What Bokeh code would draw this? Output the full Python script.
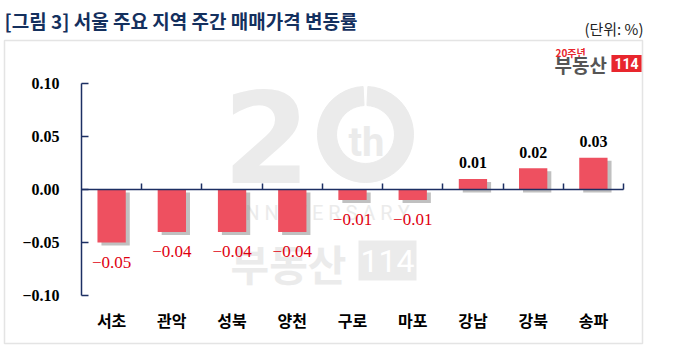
import math
from bokeh.plotting import figure
from bokeh.models import (ColumnDataSource, LinearAxis, FixedTicker, CustomJSTickFormatter,
                          Label, BoxAnnotation, Range1d)
from bokeh.core.properties import value
from bokeh.embed import file_html
from bokeh.resources import INLINE

# ---------------- data ----------------
categories = ["서초", "관악", "성북", "양천", "구로", "마포", "강남", "강북", "송파"]
changes = [-0.05, -0.04, -0.04, -0.04, -0.01, -0.01, 0.01, 0.02, 0.03]
y_ticks = [-0.10, -0.05, 0.00, 0.05, 0.10]
title_text = "[그림 3] 서울 주요 지역 주간 매매가격 변동률"
unit_text = "(단위: %)"

# ---------------- style / layout ----------------
NAVY = "#1c2f63"
BAR = "#ee5060"
NEG_TXT = "#e00010"
WM = "#ebebeb"
KR = "Noto Sans CJK KR"
SERIF = "Liberation Serif"

W, H = 660, 350
X0_PX, X1_PX = 81, 623      # canvas x of the plot's left and right ends
YT_PX, YB_PX = 83, 295      # canvas y of the top and bottom ticks

n = len(categories)
ymin, ymax = y_ticks[0], y_ticks[-1]
kx = (X1_PX - X0_PX) / n
ky = (YB_PX - YT_PX) / (ymax - ymin)
xs = [i + 0.5 for i in range(n)]

p = figure(width=W, height=H, output_backend="svg", toolbar_location=None,
           x_range=Range1d(-X0_PX / kx, (W - X0_PX) / kx),
           y_range=Range1d(ymin - (H - YB_PX) / ky, ymax + YT_PX / ky),
           x_axis_location=None, y_axis_location=None, min_border=0)
p.outline_line_color = None
p.background_fill_color = "white"
p.border_fill_color = "white"
for g in p.grid:
    g.visible = False

# canvas pixel -> screen units (x from left, y from bottom)
def sx(px):
    return px

def sy(py):
    return H - py

# ---------------- axes ----------------
yaxis = LinearAxis(fixed_location=0, bounds=(ymin, ymax),
                   ticker=FixedTicker(ticks=y_ticks, minor_ticks=[]),
                   formatter=CustomJSTickFormatter(code="return (tick < -1e-9 ? '\u2212' : '') + Math.abs(tick).toFixed(2);"),
                   axis_line_color=NAVY, axis_line_width=1.5,
                   major_tick_line_color=NAVY, major_tick_line_width=1.5,
                   major_tick_in=7, major_tick_out=0, minor_tick_in=0, minor_tick_out=0,
                   major_label_standoff=22,
                   major_label_text_font=SERIF, major_label_text_font_style="bold",
                   major_label_text_font_size="16px", major_label_text_color="black")
p.add_layout(yaxis, "left")

zero_axis = LinearAxis(fixed_location=0, bounds=(0, n),
                       ticker=FixedTicker(ticks=list(range(1, n + 1)), minor_ticks=[]),
                       formatter=CustomJSTickFormatter(code="return '';"),
                       axis_line_color=NAVY, axis_line_width=1.5,
                       major_tick_line_color=NAVY, major_tick_line_width=1.5,
                       major_tick_in=6, major_tick_out=0, minor_tick_in=0, minor_tick_out=0,
                       major_label_standoff=0)
p.add_layout(zero_axis, "below")

cat_axis = LinearAxis(fixed_location=ymin,
                      ticker=FixedTicker(ticks=xs, minor_ticks=[]),
                      formatter=CustomJSTickFormatter(args=dict(cats=categories),
                                                      code="return cats[Math.floor(tick)];"),
                      axis_line_color=None, major_tick_line_color=None, minor_tick_line_color=None,
                      major_tick_in=0, major_tick_out=0,
                      major_label_standoff=12,
                      major_label_text_font=KR, major_label_text_font_style="bold",
                      major_label_text_font_size="16px", major_label_text_color="black")
p.add_layout(cat_axis, "below")

# ---------------- frame border, title, unit ----------------
p.add_layout(BoxAnnotation(left=sx(4), right=sx(642), top=sy(40), bottom=sy(343),
                           left_units="screen", right_units="screen",
                           top_units="screen", bottom_units="screen",
                           fill_color=None, line_color="#a6a6a6", line_width=1.5,
                           level="underlay"))
p.add_layout(Label(x=sx(4), y=sy(20), x_units="screen", y_units="screen", text=title_text,
                   text_font=KR, text_font_style="bold", text_font_size="19px",
                   text_color="#14305e", text_baseline="middle"))
p.add_layout(Label(x=sx(643), y=sy(28), x_units="screen", y_units="screen", text=unit_text,
                   text_font=KR, text_font_size="15px", text_color="#222222",
                   text_align="right", text_baseline="middle"))

# ---------------- logo (top right) ----------------
p.add_layout(Label(x=sx(555), y=sy(52), x_units="screen", y_units="screen", text="20주년",
                   text_font=KR, text_font_style="bold", text_font_size="10px",
                   text_color="#e8262d", text_baseline="middle"))
p.add_layout(Label(x=sx(554), y=sy(64), x_units="screen", y_units="screen", text="부동산",
                   text_font=KR, text_font_style="bold", text_font_size="19px",
                   text_color="#555555", text_baseline="middle"))
p.add_layout(Label(x=sx(626), y=sy(63), x_units="screen", y_units="screen", text="114",
                   text_font="Roboto", text_font_style="bold", text_font_size="14px",
                   text_color="white", text_align="center", text_baseline="middle",
                   background_fill_color="#e8262d", padding=3))

# ---------------- watermark ----------------
wm_kw = dict(x_units="screen", y_units="screen", text_color=WM, level="underlay")
p.add_layout(Label(x=sx(266), y=sy(136), text="2", text_font="DejaVu Sans", text_font_style="bold",
                   text_font_size="126px", text_align="center", text_baseline="middle", **wm_kw))
p.annular_wedge(x=[(365 - X0_PX) / kx], y=[ymax - (134 - YT_PX) / ky],
                inner_radius=29, outer_radius=48,
                inner_radius_units="screen", outer_radius_units="screen",
                start_angle=math.pi / 2 + 0.05, end_angle=math.pi / 2 - 0.05,
                color=WM, level="underlay")
p.add_layout(Label(x=sx(366), y=sy(142), text="th", text_font="Roboto", text_font_style="bold",
                   text_font_size="40px", text_align="center", text_baseline="middle", **wm_kw))
p.add_layout(Label(x=sx(318), y=sy(212), text="A N N I V E R S A R Y", text_font="Roboto",
                   text_font_size="20px", text_align="center", text_baseline="middle", **wm_kw))
p.add_layout(Label(x=sx(288), y=sy(262), text="부동산", text_font=KR, text_font_style="bold",
                   text_font_size="42px", text_align="center", text_baseline="middle", **wm_kw))
p.add_layout(Label(x=sx(387), y=sy(260), text="114", text_font="Roboto",
                   text_font_size="32px", text_align="center", text_baseline="middle",
                   x_units="screen", y_units="screen", text_color="white", level="underlay",
                   background_fill_color=WM, padding=dict(left=2, right=2, top=9, bottom=9)))

# ---------------- bars ----------------
def fmt(v):
    return ("\u2212" if v < 0 else "") + f"{abs(v):.2f}"

shadow_dx = 4 / kx
shadow_dy = 3 / ky
src = ColumnDataSource(dict(
    x=xs, v=changes, zero=[0.0] * n,
    sx=[x + shadow_dx for x in xs],
    s_top=[max(v, 0) - shadow_dy for v in changes],
    s_bot=[min(v, 0) - shadow_dy for v in changes],
))
p.vbar(x="sx", top="s_top", bottom="s_bot", width=0.47, source=src,
       fill_color="#8c8c8c", fill_alpha=0.55, line_color=None)
p.vbar(x="x", top="v", bottom="zero", width=0.47, source=src,
       fill_color=BAR, line_color=None)

neg = [(x, v) for x, v in zip(xs, changes) if v < 0]
pos = [(x, v) for x, v in zip(xs, changes) if v >= 0]
neg_src = ColumnDataSource(dict(x=[a for a, _ in neg], y=[b for _, b in neg],
                                t=[fmt(b) for _, b in neg]))
pos_src = ColumnDataSource(dict(x=[a for a, _ in pos], y=[b for _, b in pos],
                                t=[fmt(b) for _, b in pos]))
p.text(x="x", y="y", text="t", source=neg_src, text_font=value(SERIF),
       text_font_size="17px", text_color=NEG_TXT, text_align="center",
       text_baseline="top", y_offset=14)
p.text(x="x", y="y", text="t", source=pos_src, text_font=value(SERIF),
       text_font_style="bold", text_font_size="16px", text_color="black",
       text_align="center", text_baseline="alphabetic", y_offset=-16)

open("out.html", "w").write(file_html(p, INLINE))
